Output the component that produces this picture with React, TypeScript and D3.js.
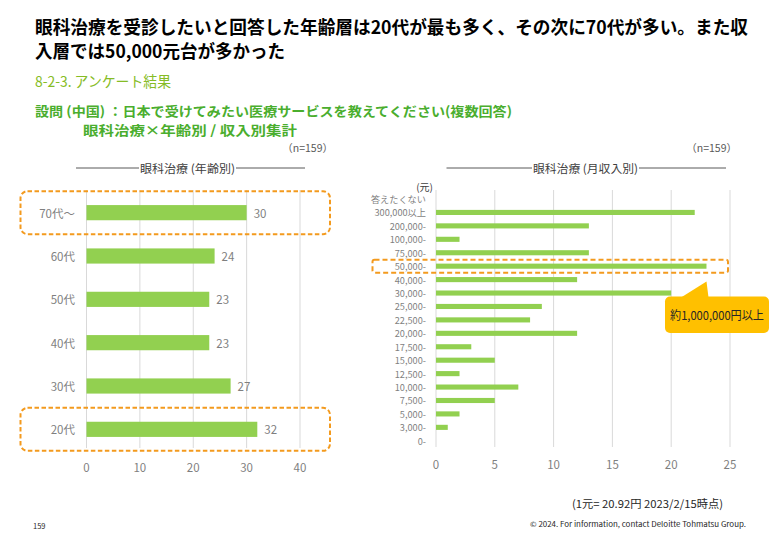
import React from "react";
import * as d3 from "d3";

const ageCats = ["70代～", "60代", "50代", "40代", "30代", "20代"];
const ageValues = [30, 24, 23, 23, 27, 32];
const ageTicks = [0, 10, 20, 30, 40];

const incomeCats = [
  "答えたくない", "300,000以上", "200,000-", "100,000-", "75,000-", "50,000-",
  "40,000-", "30,000-", "25,000-", "22,500-", "20,000-", "17,500-", "15,000-",
  "12,500-", "10,000-", "7,500-", "5,000-", "3,000-", "0-",
];
const incomeValues = [0, 22, 13, 2, 13, 23, 12, 20, 9, 8, 12, 3, 5, 2, 7, 5, 2, 1, 0];
const incomeTicks = [0, 5, 10, 15, 20, 25];

const ageHighlights = ["70代～", "20代"];
const incomeHighlight = "50,000-";

const FONT = "'Noto Sans CJK JP', 'Noto Sans', sans-serif";
const GREEN_BAR = "#92D050";
const ORANGE = "#F39A1E";
const GRID = "#D9D9D9";
const AXIS_TEXT = "#7F7F7F";
const LABEL_TEXT = "#595959";

export default function App() {
  const xL = d3.scaleLinear().domain([0, 40]).range([86.5, 300]);
  const yL = d3.scaleBand<string>().domain(ageCats).range([191, 451]).paddingInner(0.65).paddingOuter(0.325);

  const xR = d3.scaleLinear().domain([0, 25]).range([436, 730]);
  const yR = d3.scaleBand<string>().domain(incomeCats).range([192.3, 447.5]).paddingInner(0.62).paddingOuter(0.31);

  const hlR = (yR(incomeHighlight) ?? 0) + yR.bandwidth() / 2;

  return (
    <div style={{ position: "absolute", left: 0, top: 0 }}>
      <svg width={780} height={540} style={{ display: "block", fontFamily: FONT }}>
        <rect x={0} y={0} width={780} height={540} fill="#fff" />
        {/* Title */}
        <text x={35} y={25.5} dominantBaseline="central" fontSize={18} fontWeight={700} fill="#000"
          textLength={713} lengthAdjust="spacingAndGlyphs">
          眼科治療を受診したいと回答した年齢層は20代が最も多く、その次に70代が多い。また収
        </text>
        <text x={35} y={50} dominantBaseline="central" fontSize={18} fontWeight={700} fill="#000"
          textLength={250} lengthAdjust="spacingAndGlyphs">
          入層では50,000元台が多かった
        </text>
        <text x={35} y={80} dominantBaseline="central" fontSize={14.5} fill="#86BC25"
          textLength={136} lengthAdjust="spacingAndGlyphs">
          8-2-3. アンケート結果
        </text>
        <text x={35} y={110} dominantBaseline="central" fontSize={13} fontWeight={700} fill="#4AAE2E"
          textLength={477} lengthAdjust="spacingAndGlyphs">
          設問 (中国) ：日本で受けてみたい医療サービスを教えてください(複数回答)
        </text>
        <text x={83} y={129} dominantBaseline="central" fontSize={13} fontWeight={700} fill="#4AAE2E"
          textLength={214} lengthAdjust="spacingAndGlyphs">
          眼科治療×年齢別 / 収入別集計
        </text>

        {/* Left chart header */}
        <text x={333} y={147} dominantBaseline="central" textAnchor="end" fontSize={10.5} fill={LABEL_TEXT}>（n=159）</text>
        <line x1={76} x2={139} y1={168} y2={168} stroke="#595959" strokeWidth={1} />
        <line x1={236} x2={305} y1={168} y2={168} stroke="#595959" strokeWidth={1} />
        <text x={187.5} y={167.5} dominantBaseline="central" textAnchor="middle" fontSize={11.5} fill="#404040"
          textLength={95} lengthAdjust="spacingAndGlyphs">眼科治療 (年齢別)</text>

        {/* Left grid */}
        {ageTicks.map((t) => (
          <g key={"lg" + t}>
            <line x1={xL(t)} x2={xL(t)} y1={190} y2={448} stroke={GRID} strokeWidth={1} />
            <text x={xL(t)} y={467} dominantBaseline="central" textAnchor="middle" fontSize={11.5} fill={AXIS_TEXT}>{t}</text>
          </g>
        ))}
        {/* Left bars */}
        {ageCats.map((c, i) => {
          const y = yL(c) ?? 0;
          const bh = yL.bandwidth();
          return (
            <g key={"lb" + c}>
              <rect x={xL(0)} y={y} width={xL(ageValues[i]) - xL(0)} height={bh} fill={GREEN_BAR} />
              <text x={75} y={y + bh / 2} dominantBaseline="central" textAnchor="end" fontSize={11.5} fill={AXIS_TEXT}>{c}</text>
              <text x={xL(ageValues[i]) + 7} y={y + bh / 2} dominantBaseline="central" fontSize={11.5} fill={AXIS_TEXT}>{ageValues[i]}</text>
            </g>
          );
        })}
        {ageHighlights.map((c) => {
          const cy = (yL(c) ?? 0) + yL.bandwidth() / 2;
          return (
            <rect key={"hl" + c} x={20.5} y={cy - 21.5} width={309.5} height={43} rx={7} ry={7}
              fill="none" stroke={ORANGE} strokeWidth={2} strokeDasharray="4.5,2.5" />
          );
        })}

        {/* Right chart header */}
        <text x={737} y={147} dominantBaseline="central" textAnchor="end" fontSize={10.5} fill={LABEL_TEXT}>（n=159）</text>
        <line x1={446.5} x2={532} y1={168} y2={168} stroke="#595959" strokeWidth={1} />
        <line x1={639} x2={726} y1={168} y2={168} stroke="#595959" strokeWidth={1} />
        <text x={585.5} y={167.5} dominantBaseline="central" textAnchor="middle" fontSize={11.5} fill="#404040"
          textLength={105} lengthAdjust="spacingAndGlyphs">眼科治療 (月収入別)</text>
        <text x={433} y={186} dominantBaseline="central" textAnchor="end" fontSize={10} fill="#404040">(元)</text>

        {incomeTicks.map((t) => (
          <g key={"rg" + t}>
            <line x1={xR(t)} x2={xR(t)} y1={190} y2={447} stroke={GRID} strokeWidth={1} />
            <text x={xR(t)} y={463.5} dominantBaseline="central" textAnchor="middle" fontSize={11.5} fill={AXIS_TEXT}>{t}</text>
          </g>
        ))}
        {incomeCats.map((c, i) => {
          const y = yR(c) ?? 0;
          const bh = yR.bandwidth();
          return (
            <g key={"rb" + c}>
              {incomeValues[i] > 0 && (
                <rect x={xR(0)} y={y} width={xR(incomeValues[i]) - xR(0)} height={bh} fill={GREEN_BAR} />
              )}
              <text x={426} y={y + bh / 2} dominantBaseline="central" textAnchor="end" fontSize={9.2} fill={AXIS_TEXT}>{c}</text>
            </g>
          );
        })}
        <rect x={372.5} y={hlR - 6.5} width={355.5} height={13} rx={2} ry={2}
          fill="none" stroke={ORANGE} strokeWidth={2} strokeDasharray="5,3" />

        {/* Callout */}
        <path d="M 681 297.5 L 706.5 281.5 L 708.5 297.5 Z" fill="#FFC000" />
        <rect x={665} y={296.5} width={104} height={36.5} rx={5} ry={5} fill="#FFC000" />
        <text x={717} y={314.5} dominantBaseline="central" textAnchor="middle" fontSize={12} fill="#262626"
          textLength={94} lengthAdjust="spacingAndGlyphs">約1,000,000円以上</text>

        {/* Footer */}
        <text x={572} y={502.5} dominantBaseline="central" fontSize={11} fill="#262626"
          textLength={151} lengthAdjust="spacingAndGlyphs">(1元= 20.92円 2023/2/15時点)</text>
        <text x={530} y={523.5} dominantBaseline="central" fontSize={7.5} fill="#262626"
          textLength={216} lengthAdjust="spacingAndGlyphs">© 2024. For information, contact Deloitte Tohmatsu Group.</text>
        <text x={33} y={525} dominantBaseline="central" fontSize={7.5} fill="#262626">159</text>
      </svg>
    </div>
  );
}
